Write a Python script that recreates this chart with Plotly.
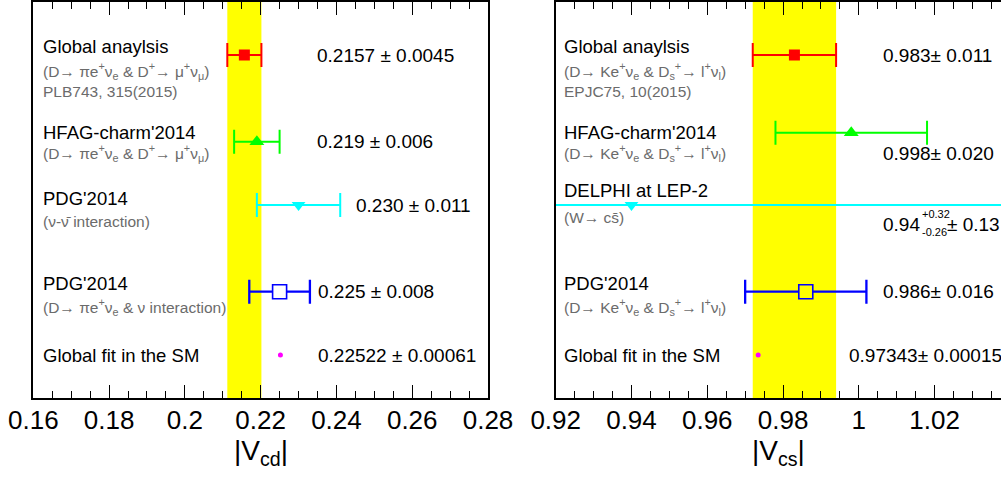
import plotly.graph_objects as go

# ---------------- data ----------------
cd_values = [0.2157, 0.219, 0.230, 0.225, 0.22522]
cd_errors = [0.0045, 0.006, 0.011, 0.008, 0.00061]
cd_titles = ["Global anaylsis", "HFAG-charm'2014", "PDG'2014", "PDG'2014", "Global fit in the SM"]
cd_notes = [
    ["(D\u2192 \u03c0e<sup>+</sup>\u03bd<sub>e</sub> & D<sup>+</sup>\u2192 \u03bc<sup>+</sup>\u03bd<sub>\u03bc</sub>)", "PLB743, 315(2015)"],
    ["(D\u2192 \u03c0e<sup>+</sup>\u03bd<sub>e</sub> & D<sup>+</sup>\u2192 \u03bc<sup>+</sup>\u03bd<sub>\u03bc</sub>)"],
    ["(\u03bd-\u03bd\u0304 interaction)"],
    ["(D\u2192 \u03c0e<sup>+</sup>\u03bd<sub>e</sub> & \u03bd interaction)"],
    [],
]
cd_texts = ["0.2157 \u00b1 0.0045", "0.219 \u00b1 0.006", "0.230 \u00b1 0.011",
            "0.225 \u00b1 0.008", "0.22522 \u00b1 0.00061"]
cd_ticks = [0.16, 0.18, 0.20, 0.22, 0.24, 0.26, 0.28]
cd_ticklabels = ["0.16", "0.18", "0.2", "0.22", "0.24", "0.26", "0.28"]

cs_values = [0.983, 0.998, 0.94, 0.986, 0.97343]
cs_err_plus = [0.011, 0.020, 0.345, 0.016, 0.00015]
cs_err_minus = [0.011, 0.020, 0.291, 0.016, 0.00015]
cs_titles = ["Global anaylsis", "HFAG-charm'2014", "DELPHI at LEP-2", "PDG'2014", "Global fit in the SM"]
cs_notes = [
    ["(D\u2192 Ke<sup>+</sup>\u03bd<sub>e</sub> & D<sub>s</sub><sup>+</sup>\u2192 l<sup>+</sup>\u03bd<sub>l</sub>)", "EPJC75, 10(2015)"],
    ["(D\u2192 Ke<sup>+</sup>\u03bd<sub>e</sub> & D<sub>s</sub><sup>+</sup>\u2192 l<sup>+</sup>\u03bd<sub>l</sub>)"],
    ["(W\u2192 cs\u0304)"],
    ["(D\u2192 Ke<sup>+</sup>\u03bd<sub>e</sub> & D<sub>s</sub><sup>+</sup>\u2192 l<sup>+</sup>\u03bd<sub>l</sub>)"],
    [],
]
cs_texts = ["0.983\u00b1 0.011", "0.998\u00b1 0.020", None, "0.986\u00b1 0.016", "0.97343\u00b1 0.00015"]
cs_delphi_parts = ["0.94", "+0.32", "-0.26", "\u00b1 0.13"]
cs_ticks = [0.92, 0.94, 0.96, 0.98, 1.00, 1.02]
cs_ticklabels = ["0.92", "0.94", "0.96", "0.98", "1", "1.02"]

# ---------------- layout geometry (pixels) ----------------
W, H = 1001, 481
TOP, BOT = 2, 398
L0, L1 = 33.3, 488.0
R0, R1 = 555.7, 1001.0
CD_RANGE = [0.16, 0.28]
SCALE = (L1 - L0) / (CD_RANGE[1] - CD_RANGE[0])
CS_RANGE = [0.92, 0.92 + (R1 - R0) / SCALE]

# row positions (pixel rows, y axis is set up in pixel units)
cd_rows = [55, 141.7, 205, 291.7, 355]
cs_rows = [55, 132.7, 205, 291.7, 355]
cd_title_y = [46, 132.5, 198.5, 283, 355]
cd_note_y = [[71, 91], [153], [221.5], [306.5], []]
cs_title_y = [46, 132.5, 190, 283, 355]
cs_note_y = [[71, 91], [153], [217], [306.5], []]
cd_text_x = [316, 316, 355, 316.7, 316.7]
cd_text_y = [55, 141.7, 205, 291.7, 355]
cs_text_x = [881.7, 881.7, 881.7, 881.7, 847.7]
cs_text_y = [55, 153, 224, 291.7, 355]

FONT = "Liberation Sans, Arial, Helvetica, sans-serif"
GRAY = "#6b6b6b"
YELLOW = "#ffff00"
TITLE_SIZE = 18.5
NOTE_SIZE = 15.5
VALUE_SIZE = 19


def lx(px):
    return CD_RANGE[0] + (px - L0) / SCALE


def rx(px):
    return CS_RANGE[0] + (px - R0) / SCALE


styles = [
    dict(symbol="square", size=11, color="#ff0000", line=dict(width=0), ecol="#ff0000", ew=2),
    dict(symbol="triangle-up", size=13, color="#00ff00", line=dict(width=0), ecol="#00ff00", ew=2),
    dict(symbol="triangle-down", size=12, color="#00ffff", line=dict(width=0), ecol="#00ffff", ew=2),
    dict(symbol="square", size=14, color="white", line=dict(width=1.6, color="#0000ff"), ecol="#0000ff", ew=2.3),
    dict(symbol="circle", size=5, color="#ff00ff", line=dict(width=0), ecol="#ff00ff", ew=0),
]

fig = go.Figure()

# yellow bands (global analysis result)
fig.add_shape(type="rect", xref="x", yref="y domain", x0=cd_values[0] - cd_errors[0],
              x1=cd_values[0] + cd_errors[0], y0=0, y1=1, fillcolor=YELLOW, line_width=0, layer="below")
fig.add_shape(type="rect", xref="x2", yref="y2 domain", x0=cs_values[0] - cs_err_minus[0],
              x1=cs_values[0] + cs_err_plus[0], y0=0, y1=1, fillcolor=YELLOW, line_width=0, layer="below")

for i, st in enumerate(styles):
    show_err = i != 4
    fig.add_trace(go.Scatter(
        x=[cd_values[i]], y=[cd_rows[i]], mode="markers", xaxis="x", yaxis="y",
        marker=dict(symbol=st["symbol"], size=st["size"], color=st["color"], line=st["line"]),
        error_x=dict(type="data", array=[cd_errors[i]], visible=show_err, color=st["ecol"],
                     thickness=st["ew"], width=12),
        showlegend=False, hoverinfo="skip"))
    mcol = YELLOW if i == 3 else st["color"]
    fig.add_trace(go.Scatter(
        x=[cs_values[i]], y=[cs_rows[i]], mode="markers", xaxis="x2", yaxis="y2",
        marker=dict(symbol=st["symbol"], size=st["size"], color=mcol, line=st["line"]),
        error_x=dict(type="data", symmetric=False, array=[cs_err_plus[i]], arrayminus=[cs_err_minus[i]],
                     visible=show_err, color=st["ecol"], thickness=st["ew"], width=12),
        showlegend=False, hoverinfo="skip"))

ann = []


def add_text(xref, yref, x, y, text, size, color="black", anchor="left"):
    ann.append(dict(xref=xref, yref=yref, x=x, y=y, text=text, showarrow=False,
                    xanchor=anchor, yanchor="middle", borderpad=0,
                    font=dict(family=FONT, size=size, color=color)))


for i in range(5):
    add_text("x", "y", lx(42), cd_title_y[i], cd_titles[i], TITLE_SIZE)
    for note, ny in zip(cd_notes[i], cd_note_y[i]):
        add_text("x", "y", lx(42), ny, note, NOTE_SIZE, GRAY)
    add_text("x", "y", lx(cd_text_x[i]), cd_text_y[i], cd_texts[i], VALUE_SIZE)

    add_text("x2", "y2", rx(563.3), cs_title_y[i], cs_titles[i], TITLE_SIZE)
    for note, ny in zip(cs_notes[i], cs_note_y[i]):
        add_text("x2", "y2", rx(563.3), ny, note, NOTE_SIZE, GRAY)
    if cs_texts[i] is not None:
        add_text("x2", "y2", rx(cs_text_x[i]), cs_text_y[i], cs_texts[i], VALUE_SIZE)
    else:
        add_text("x2", "y2", rx(881.7), 224, cs_delphi_parts[0], VALUE_SIZE)
        add_text("x2", "y2", rx(920.5), 213.5, cs_delphi_parts[1], 11)
        add_text("x2", "y2", rx(920.5), 232, cs_delphi_parts[2], 11)
        add_text("x2", "y2", rx(946), 224, cs_delphi_parts[3], VALUE_SIZE)

# axis titles
for ref, txt in (("x domain", "|V<sub>cd</sub>|"), ("x2 domain", "|V<sub>cs</sub>|")):
    ann.append(dict(xref=ref, yref="paper", x=0.5, y=(BOT - 434) / (BOT - TOP), text=txt,
                    showarrow=False, xanchor="center", yanchor="top", borderpad=0,
                    font=dict(family=FONT, size=28, color="black")))

xcommon = dict(showgrid=False, zeroline=False, showline=True, linecolor="black", linewidth=2,
               mirror="ticks", ticks="inside", ticklen=13, tickwidth=1.3, tickcolor="black",
               automargin=False,
               tickfont=dict(family=FONT, size=26, color="black"), ticklabelstandoff=-2,
               minor=dict(dtick=0.005, ticks="inside", ticklen=7, tickwidth=1.3, tickcolor="black", showgrid=False))
ycommon = dict(showgrid=False, zeroline=False, showline=True, linecolor="black", linewidth=2,
               automargin=False, showticklabels=False, ticks="", range=[BOT, TOP])

fig.update_layout(
    width=W, height=H, paper_bgcolor="white", plot_bgcolor="white",
    margin=dict(l=0, r=0, t=TOP, b=H - BOT, autoexpand=False),
    xaxis=dict(domain=[L0 / W, L1 / W], range=CD_RANGE, tickvals=cd_ticks, ticktext=cd_ticklabels,
               tick0=0.16, **xcommon),
    yaxis=dict(anchor="x", mirror=True, **ycommon),
    xaxis2=dict(domain=[R0 / W, 1.0], range=CS_RANGE, tickvals=cs_ticks, ticktext=cs_ticklabels,
                anchor="y2", tick0=0.92, **xcommon),
    yaxis2=dict(anchor="x2", mirror=False, **ycommon),
    annotations=ann,
)

fig.write_html("out.html")
